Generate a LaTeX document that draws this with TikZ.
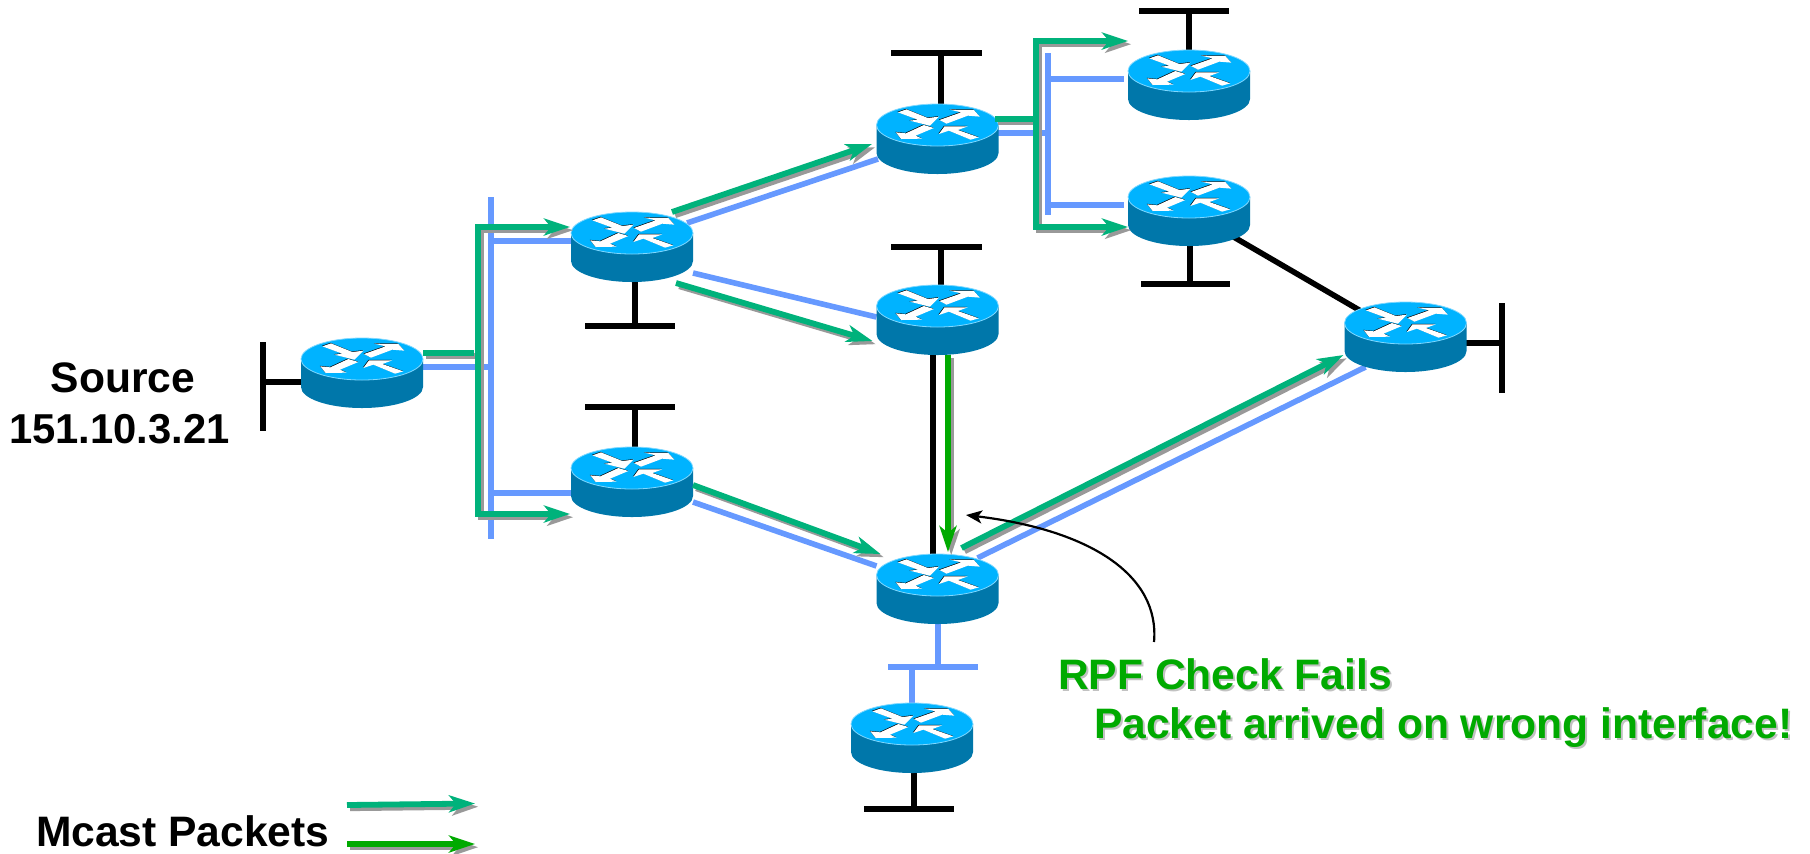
\documentclass[tikz,border=0pt]{standalone}
\usepackage{fontspec}
\setmainfont{Liberation Sans}
\usetikzlibrary{arrows.meta,calc}
\definecolor{mcastgreen}{HTML}{00B27B}
\definecolor{failgreen}{HTML}{00AA00}
\definecolor{linkblue}{HTML}{6699FF}
\definecolor{dropgray}{HTML}{999999}
\definecolor{routertop}{HTML}{00B3FF}
\definecolor{routerside}{HTML}{0077AA}
\definecolor{routerrim}{HTML}{7FD8FF}
\tikzset{
  routerbox/.style={minimum width=61pt,minimum height=35pt,inner sep=0pt,outer sep=0pt},
  blueline/.style={draw=linkblue,line width=2.8pt},
  blackline/.style={draw=black,line width=2.8pt},
  dropshade/.style={preaction={draw=dropgray,line width=2.9pt,transform canvas={shift={(1.6pt,-1.6pt)}}}},
  flowline/.style={dropshade,draw=#1,line width=2.9pt,line cap=butt,
    arrows={-Stealth[length=13pt,width=8.5pt,inset=3.5pt]}},
  flowboth/.style={dropshade,draw=mcastgreen,line width=2.9pt,line join=miter,
    arrows={Stealth[length=13pt,width=8.5pt,inset=3.5pt]-Stealth[length=13pt,width=8.5pt,inset=3.5pt]}},
  flowstub/.style={dropshade,draw=mcastgreen,line width=2.9pt},
  bigtext/.style={font=\fontsize{21.3}{25}\selectfont\bfseries,inner sep=0pt,outer sep=0pt},
}
\newcommand{\routerart}[1]{%
  \begin{scope}[shift={(#1.center)}]
    \begin{scope}[shift={(0,-14)}]
      \path[fill=routerside] (-61,0) -- (-61,28) arc[start angle=180,end angle=360,x radius=61,y radius=-21] -- (61,0) -- cycle;
      \path[fill=routertop,draw=routerrim,line width=.4pt] (0,0) ellipse[x radius=61,y radius=21];
      \begin{scope}[x=.16667pt,y=-.16667pt,shift={(-201,-88)}]
        \foreach \col/\off in {black/-1.5,white/0}{
          \begin{scope}[shift={(\off,\off)}]
          \fill[\col] (82,50)--(108,41)--(172,67)--(205,63)--(178,90)--(118,75)--(142,72)--cycle;
          \fill[\col] (207,73)--(272,50)--(238,42)--(310,43)--(328,63)--(292,60)--(228,84)--cycle;
          \fill[\col] (160,88)--(190,97)--(135,120)--(155,129)--(92,130)--(76,110)--(106,113)--cycle;
          \fill[\col] (325,125)--(300,132)--(235,105)--(205,115)--(222,92)--(292,92)--(262,103)--cycle;
          \end{scope}
        }
      \end{scope}
    \end{scope}
  \end{scope}}
\begin{document}
\begin{tikzpicture}[x=.5pt,y=-.5pt]
\useasboundingbox (0,0) rectangle (1810,853);
% router anchors (centre of each body)
\node[routerbox] (src)  at (362,373) {};
\node[routerbox] (up)   at (632,247) {};
\node[routerbox] (low)  at (632,482) {};
\node[routerbox] (top)  at (937.5,139) {};
\node[routerbox] (mid)  at (937.5,320) {};
\node[routerbox] (bot)  at (937.5,589) {};
\node[routerbox] (tr)   at (1189,85) {};
\node[routerbox] (rr)   at (1189,211) {};
\node[routerbox] (east) at (1405.5,337) {};
\node[routerbox] (leaf) at (912,738) {};
% free ends
\coordinate (srcA) at (263,342); \coordinate (srcB) at (263,431); \coordinate (srcJ) at (263,382);
\coordinate (busT) at (491,197); \coordinate (busB) at (491,539);
\coordinate (b1) at (491,367); \coordinate (b2) at (491,241); \coordinate (b3) at (491,493);
\coordinate (upA) at (585,326); \coordinate (upB) at (675,326); \coordinate (upJ) at (635,326);
\coordinate (lowA) at (585,407); \coordinate (lowB) at (675,407); \coordinate (lowJ) at (635,407);
\coordinate (topA) at (891,53); \coordinate (topB) at (982,53); \coordinate (topJ) at (941,53);
\coordinate (midA) at (891,247); \coordinate (midB) at (982,247); \coordinate (midJ) at (941,247);
\coordinate (trA) at (1139,11); \coordinate (trB) at (1229,11); \coordinate (trJ) at (1189,11);
\coordinate (rrA) at (1141,284); \coordinate (rrB) at (1230,284); \coordinate (rrJ) at (1190,284);
\coordinate (eastA) at (1502,303); \coordinate (eastB) at (1502,393); \coordinate (eastJ) at (1502,343);
\coordinate (bus2T) at (1048,53); \coordinate (bus2B) at (1048,215);
\coordinate (c1) at (1048,133); \coordinate (c2) at (1048,79); \coordinate (c3) at (1048,205);
\coordinate (tr1) at (1124,79); \coordinate (rr1) at (1124,205);
\coordinate (botA) at (888,667); \coordinate (botB) at (978,667); \coordinate (botJ) at (938,667); \coordinate (botK) at (912,667);
\coordinate (leafA) at (864,809); \coordinate (leafB) at (954,809); \coordinate (leafJ) at (914,809);
% black stubs
\draw[blackline] (srcA) -- (srcB); \draw[blackline] (srcJ) -- (src.center |- srcJ);
\draw[blackline] (upA) -- (upB); \draw[blackline] (upJ) -- (upJ |- up.center);
\draw[blackline] (lowA) -- (lowB); \draw[blackline] (lowJ) -- (lowJ |- low.center);
\draw[blackline] (topA) -- (topB); \draw[blackline] (topJ) -- (topJ |- top.center);
\draw[blackline] (midA) -- (midB); \draw[blackline] (midJ) -- (midJ |- mid.center);
\draw[blackline] (trA) -- (trB); \draw[blackline] (trJ) -- (tr.center);
\draw[blackline] (rrA) -- (rrB); \draw[blackline] (rrJ) -- (rrJ |- rr.center);
\draw[blackline] (eastA) -- (eastB); \draw[blackline] (eastJ) -- (east.center |- eastJ);
\draw[blackline] (leafA) -- (leafB); \draw[blackline] (leafJ) -- (leafJ |- leaf.center);
\draw[blackline] (rr.center) -- (east.center);
\draw[blackline] ($(mid)+(-4.5,0)$) -- ($(bot)+(-4.5,0)$);
% blue links
\draw[blueline] (busT) -- (busB);
\draw[blueline] (src.center |- b1) -- (b1);
\draw[blueline] (b2) -- (up.center |- b2);
\draw[blueline] (b3) -- (low.center |- b3);
\draw[blueline] ($(up)+(55,-24)$) -- ($(top)+(-59.5,20)$);
\draw[blueline] ($(up)+(61,26)$) -- ($(mid)+(-61,-3)$);
\draw[blueline] ($(low)+(61,20)$) -- ($(bot)+(-61,-23)$);
\draw[blueline] ($(bot)+(40,-31)$) -- ($(east)+(-40,30)$);
\draw[blueline] (bus2T) -- (bus2B);
\draw[blueline] (top.center |- c1) -- (c1);
\draw[blueline] (c2) -- (tr1);
\draw[blueline] (c3) -- (rr1);
\draw[blueline] (botA) -- (botB);
\draw[blueline] (botJ) -- (botJ |- bot.center);
\draw[blueline] (botK) -- (botK |- leaf.center);
% routers
\foreach \r in {src,up,low,top,mid,bot,tr,rr,east,leaf}{\routerart{\r}}
% multicast flows
\coordinate (f1) at (474,353);
\coordinate (f2a) at (570,227); \coordinate (f2b) at (478,227); \coordinate (f2c) at (478,514); \coordinate (f2d) at (570,514);
\draw[flowstub] ($(src)+(61,-20)$) -- (f1);
\draw[flowboth] (f2a) -- (f2b) -- (f2c) -- (f2d);
\draw[flowline=mcastgreen] ($(up)+(40,-35)$) -- ($(top)+(-65.5,5)$);
\draw[flowline=mcastgreen] ($(up)+(44,36)$) -- ($(mid)+(-65,21)$);
\draw[flowline=mcastgreen] ($(low)+(61,3)$) -- ($(bot)+(-57,-35)$);
\draw[flowline=mcastgreen] ($(bot)+(24,-41)$) -- ($(east)+(-62,18)$);
\coordinate (f3) at (1033,119);
\coordinate (f4a) at (1128,41); \coordinate (f4b) at (1036,41); \coordinate (f4c) at (1036,227); \coordinate (f4d) at (1128,227);
\draw[flowstub] ($(top)+(57,-20)$) -- (f3);
\draw[flowboth] (f4a) -- (f4b) -- (f4c) -- (f4d);
\draw[flowline=failgreen] ($(mid)+(10.5,35)$) -- ($(bot)+(10.5,-37)$);
% callout
\coordinate (callFrom) at (1154,642); \coordinate (callTo) at (966,515);
\draw[line width=1.1pt,-{Stealth[length=8pt,width=6.5pt,inset=2pt]}] (callFrom) .. controls (1160,575) and (1090,530) .. (callTo);
% text
\node[bigtext,anchor=base] (srcname) at (123,392) {Source};
\node[bigtext,anchor=base,font=\fontsize{20.9}{25}\selectfont\bfseries] (srcip) at (119.5,443) {151.10.3.21};
\node[bigtext,anchor=base west] (legend) at (36,846) {Mcast Packets};
\node[bigtext,anchor=base west,text=dropgray!60] (failS) at (1060,691) {RPF Check Fails};
\node[bigtext,anchor=base west,text=dropgray!60] (whyS) at (1096,740) {Packet arrived on wrong interface!};
\node[bigtext,anchor=base west,text=failgreen] (fail) at (1058,689) {RPF Check Fails};
\node[bigtext,anchor=base west,text=failgreen] (why) at (1094,738) {Packet arrived on wrong interface!};
% legend arrows
\coordinate (l1a) at (347,805); \coordinate (l1b) at (475,803.5);
\coordinate (l2a) at (347,844); \coordinate (l2b) at (475,844);
\draw[flowline=mcastgreen] (l1a) -- (l1b);
\draw[flowline=failgreen] (l2a) -- (l2b);
\end{tikzpicture}
\end{document}
